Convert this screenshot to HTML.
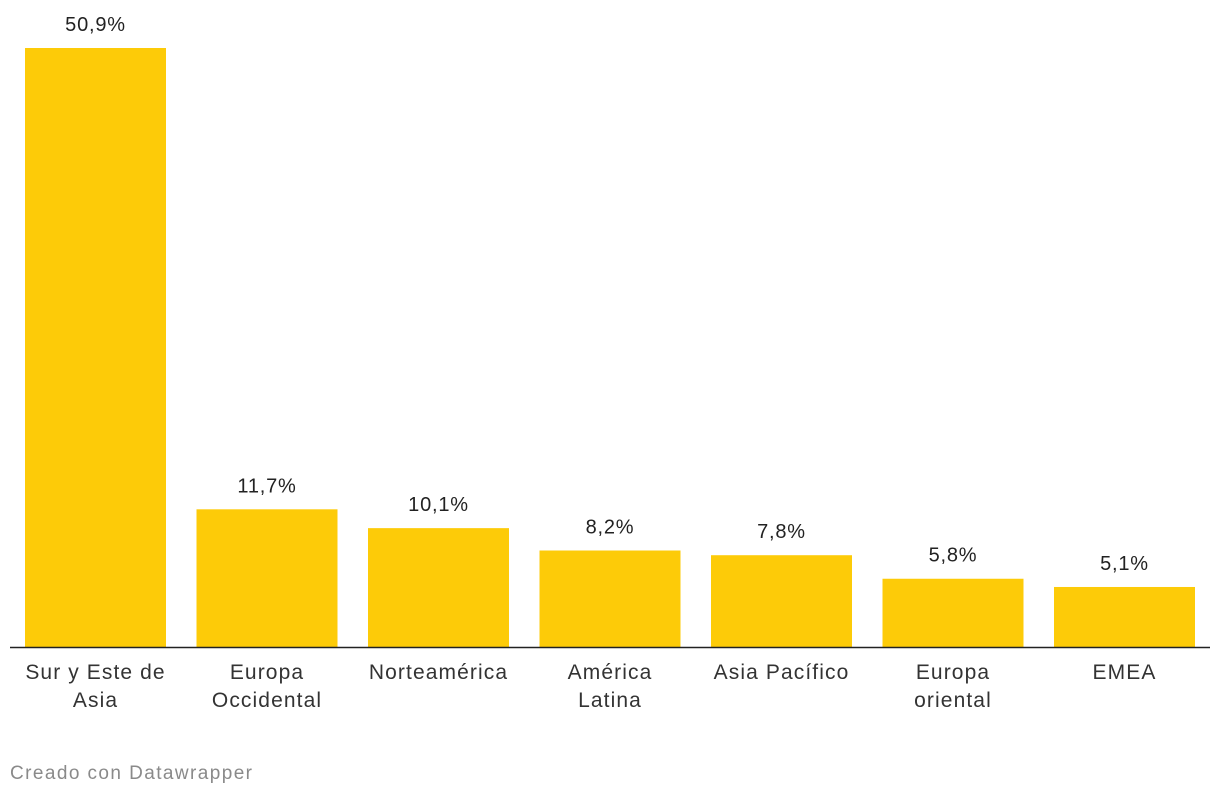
<!DOCTYPE html>
<html><head><meta charset="utf-8"><style>
body{margin:0;background:#fff;width:1220px;height:796px;overflow:hidden;font-family:"Liberation Sans",Arial,sans-serif}
svg text{font-family:"Liberation Sans",Arial,sans-serif}
</style></head><body>
<svg id="chart" width="1220" height="796"></svg>
<script>
const categories=[["Sur y Este de","Asia"],["Europa","Occidental"],["Norteamérica"],["América","Latina"],["Asia Pacífico"],["Europa","oriental"],["EMEA"]];
const values=[50.9,11.7,10.1,8.2,7.8,5.8,5.1];
const valueLabels=["50,9%","11,7%","10,1%","8,2%","7,8%","5,8%","5,1%"];
const svg=document.getElementById('chart');
const NS='http://www.w3.org/2000/svg';
const baseY=647,scale=599/50.9,x0=25,step=171.5,bw=141;
function yScale(v){return baseY-v*scale;}
function xScale(i){return x0+i*step;}
function mk(t,a){const e=document.createElementNS(NS,t);for(const k in a)e.setAttribute(k,a[k]);svg.appendChild(e);return e;}
values.forEach((v,i)=>{
 const r=mk('rect',{x:xScale(i),y:yScale(v),width:bw,height:baseY-yScale(v),fill:'#fdcb08'});
 
 
 const t=mk('text',{x:xScale(i)+bw/2,y:yScale(v)-17,'text-anchor':'middle','font-size':20,'letter-spacing':'0.8',fill:'#222'});
 t.textContent=valueLabels[i];
 
 
 categories[i].forEach((line,j)=>{
  const c=mk('text',{x:xScale(i)+bw/2,y:679+j*28,'text-anchor':'middle','font-size':21,'letter-spacing':'1.1',fill:'#333'});
  c.textContent=line;
  
  
 });
});
const ax=mk('line',{x1:10,x2:1210,y1:baseY+0.5,y2:baseY+0.5,stroke:'#222','stroke-width':1.5});


const f=mk('text',{x:10,y:779,'font-size':19,fill:'#8a8a8a',textLength:242,lengthAdjust:'spacing'});
f.textContent='Creado con Datawrapper';


</script>
</body></html>
